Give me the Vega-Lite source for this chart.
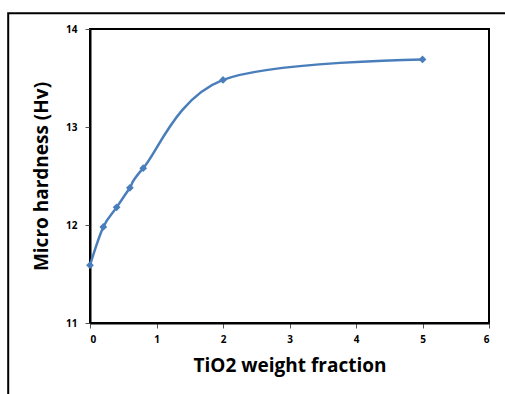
{
  "$schema": "https://vega.github.io/schema/vega-lite/v6.json",
  "width": 399,
  "height": 294,
  "autosize": "none",
  "padding": {"left": 90, "top": 29, "right": 16, "bottom": 71},
  "background": "white",
  "config": {
    "view": {"stroke": "black", "strokeWidth": 2},
    "axis": {
      "labelFont": "Open Sans", "labelFontWeight": "bold", "labelFontSize": 10, "labelColor": "black",
      "titleFont": "Open Sans", "titleFontWeight": "bold", "titleFontSize": 19, "titleColor": "black",
      "domainColor": "black", "domainWidth": 2, "tickColor": "#555", "tickSize": 5, "grid": false
    }
  },
  "data": {"values": [
    {"x": 0, "y": 11.59},
    {"x": 0.2, "y": 11.98},
    {"x": 0.4, "y": 12.18},
    {"x": 0.6, "y": 12.38},
    {"x": 0.8, "y": 12.58},
    {"x": 2, "y": 13.48},
    {"x": 5, "y": 13.69}
  ]},
  "layer": [
    {
      "data": {"values": [{"x1": -1.23, "x2": 7.5, "y1": 14.16, "y2": 10}]},
      "mark": {"type": "rect", "fill": null, "stroke": "black", "strokeWidth": 2, "clip": false},
      "encoding": {
        "x": {"field": "x1", "type": "quantitative"},
        "x2": {"field": "x2"},
        "y": {"field": "y1", "type": "quantitative"},
        "y2": {"field": "y2"}
      }
    },
    {
      "mark": {"type": "line", "interpolate": "cardinal", "color": "#4A7EBB", "strokeWidth": 2.5},
      "encoding": {
        "x": {"field": "x", "type": "quantitative"},
        "y": {"field": "y", "type": "quantitative"}
      }
    },
    {
      "mark": {"type": "point", "shape": "diamond", "filled": true, "color": "#4A7EBB", "size": 60, "opacity": 1},
      "encoding": {
        "x": {"field": "x", "type": "quantitative", "scale": {"domain": [0, 6], "nice": false}, "axis": {"title": "TiO2 weight fraction", "values": [0, 1, 2, 3, 4, 5, 6], "format": "d", "labelPadding": 6, "titlePadding": 12}},
        "y": {"field": "y", "type": "quantitative", "scale": {"domain": [11, 14], "nice": false, "zero": false}, "axis": {"title": "Micro hardness (Hv)", "values": [11, 12, 13, 14], "format": "d", "labelPadding": 8, "titlePadding": 14}}
      }
    }
  ]
}
